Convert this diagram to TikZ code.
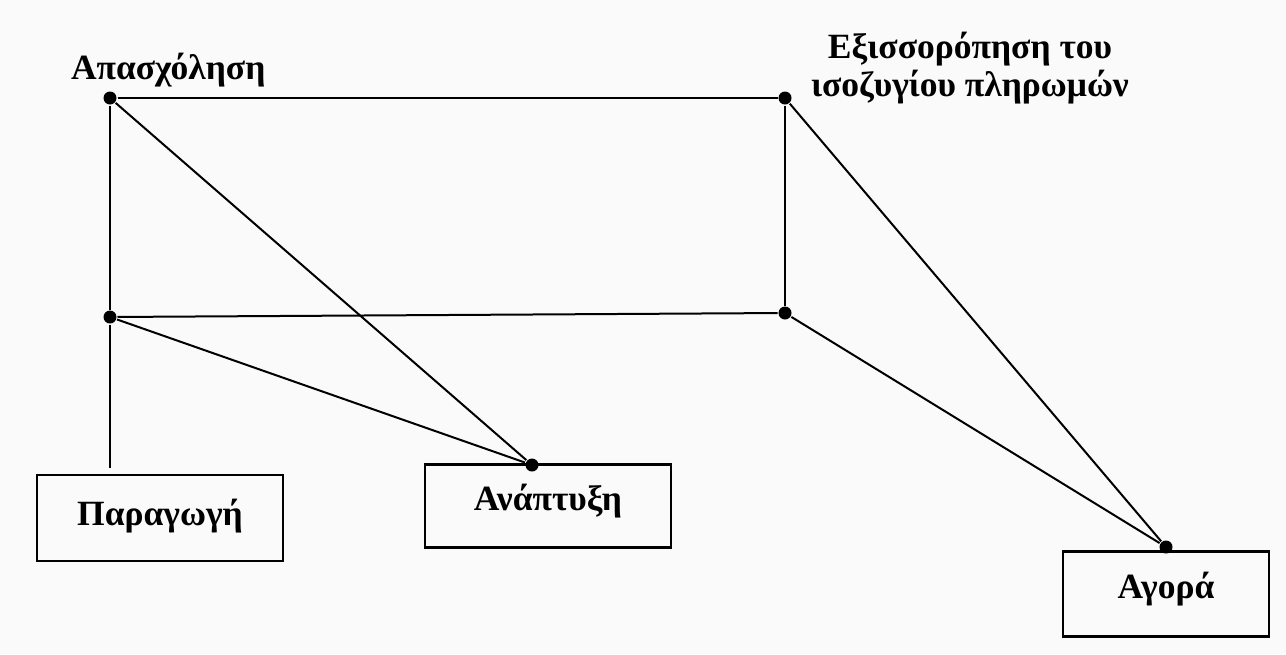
\documentclass[tikz,border=0pt]{standalone}
\usepackage{fontspec}
\setmainfont{Liberation Serif}
\begin{document}
\begin{tikzpicture}[x=1pt, y=-1pt,
		line width=2pt,
		dot/.style={circle, fill=black, inner sep=0pt, minimum size=13pt},
		lbl/.style={font=\fontsize{35.5}{38}\selectfont\bfseries, inner sep=0pt},
		box/.style={draw, line width=2.5pt, lbl, text height=24pt, text depth=16pt}]
		\useasboundingbox [fill=gray!4] ( 0, 0 ) rectangle ( 1286, 654 );

		% σημεία
		\node [dot] (apas) at ( 110, 98 ) {};
		\node [dot] (exis) at ( 785, 98 ) {};
		\node [dot] (katar) at ( 110, 317 ) {};
		\node [dot] (katde) at ( 785, 313 ) {};
		\node [dot] (anaptd) at ( 532, 465 ) {};
		\node [dot] (agorad) at ( 1166, 547 ) {};
		\coordinate (kato) at ( 110, 468 );

		% ετικέτες
		\node [lbl, anchor=base west] (l-apas) at ( 70, 79 ) {Απασχόληση};
		\node [lbl, align=center, anchor=base] (l-exis) at ( 970, 96 ) {Εξισσορόπηση του\\ισοζυγίου πληρωμών};

		% κουτιά
		\node [box, minimum width=246pt, minimum height=86pt, text height=26pt, text depth=11.5pt] (parag) at ( 160, 518 ) {Παραγωγή};
		\node [box, minimum width=246pt, minimum height=83pt] (anapt) at ( 548, 506 ) {Ανάπτυξη};
		\node [box, minimum width=206pt, minimum height=85pt] (agora) at ( 1166, 594 ) {Αγορά};

		% γραμμές
		\draw (apas) -- (exis);
		\draw (apas) -- (katar);
		\draw (exis) -- (katde);
		\draw (katar) -- (katde);
		\draw (apas) -- (anaptd);
		\draw (katar) -- (anaptd);
		\draw (exis) -- (agorad);
		\draw (katde) -- (agorad);
		\draw (katar) -- (kato);
	\end{tikzpicture}
\end{document}
